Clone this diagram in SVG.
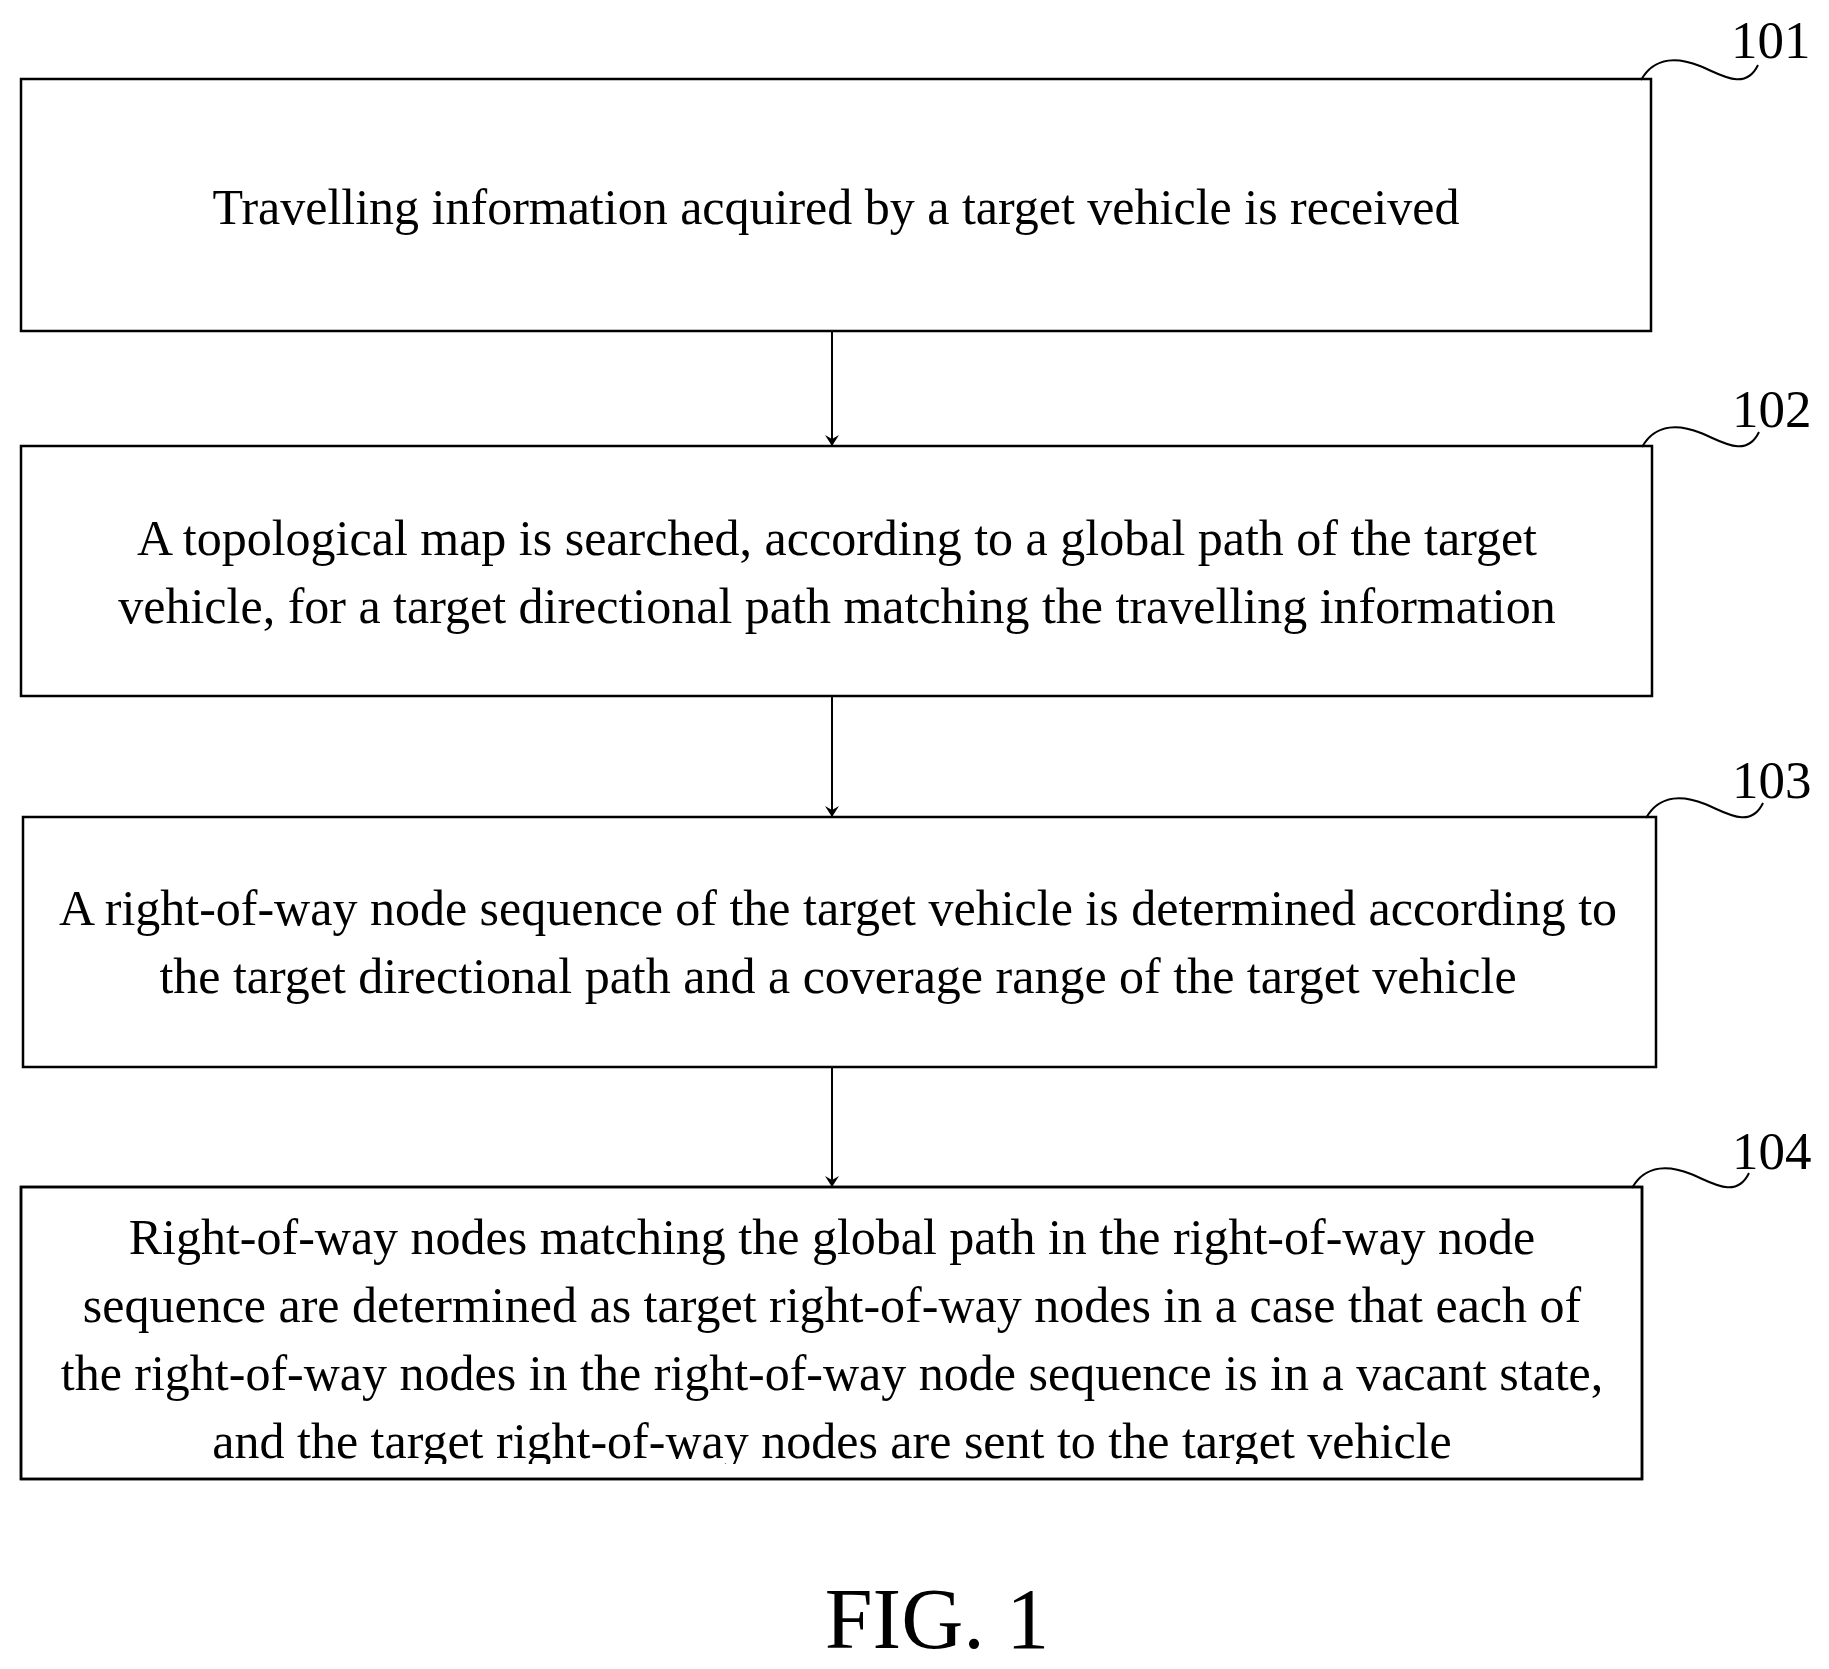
<svg xmlns="http://www.w3.org/2000/svg" width="1829" height="1669" viewBox="0 0 1829 1669">
<style>
.box{fill:#fff;stroke:#000;stroke-width:2.5}
.t{font-family:"Liberation Serif",serif;font-size:50px;text-anchor:middle;fill:#000}
.lb{font-family:"Liberation Serif",serif;font-size:53px;fill:#000}
.sq{fill:none;stroke:#000;stroke-width:2}
.c{stroke:#000;stroke-width:2;fill:none}
</style>
<defs><marker id="ah" markerWidth="12" markerHeight="14" refX="10" refY="7" orient="auto" markerUnits="userSpaceOnUse"><path d="M0,0 L11,7 L0,14 L4,7 Z" fill="#000"/></marker></defs>
<rect width="1829" height="1669" fill="#fff"/>
<g id="n101"><rect class="box" x="21" y="79" width="1630" height="252"/>
<text class="t" x="836" y="224">Travelling information acquired by a target vehicle is received</text>
<path class="sq" d="M1641,80 C1655,55 1680,58 1700,66 C1720,74 1745,92 1758,65"/><text class="lb" x="1731" y="58">101</text></g>
<g id="n102"><rect class="box" x="21" y="446" width="1631" height="250"/>
<text class="t" x="837" y="555">A topological map is searched, according to a global path of the target</text>
<text class="t" x="837" y="623">vehicle, for a target directional path matching the travelling information</text>
<path class="sq" d="M1642,447 C1656,422 1681,425 1701,433 C1721,441 1746,459 1759,432"/><text class="lb" x="1732" y="427">102</text></g>
<g id="n103"><rect class="box" x="23" y="817" width="1633" height="250"/>
<text class="t" x="838" y="925">A right-of-way node sequence of the target vehicle is determined according to</text>
<text class="t" x="838" y="993">the target directional path and a coverage range of the target vehicle</text>
<path class="sq" d="M1646,818 C1660,793 1685,796 1705,804 C1725,812 1750,830 1763,803"/><text class="lb" x="1732" y="798">103</text></g>
<g id="n104"><clipPath id="cp"><rect x="21" y="1187" width="1621" height="277"/></clipPath>
<rect class="box" x="21" y="1187" width="1621" height="292"/>
<g clip-path="url(#cp)">
<text class="t" x="832" y="1254">Right-of-way nodes matching the global path in the right-of-way node</text>
<text class="t" x="832" y="1322">sequence are determined as target right-of-way nodes in a case that each of</text>
<text class="t" x="832" y="1390">the right-of-way nodes in the right-of-way node sequence is in a vacant state,</text>
<text class="t" x="832" y="1458">and the target right-of-way nodes are sent to the target vehicle</text></g>
<rect x="21" y="1187" width="1621" height="292" fill="none" stroke="#000" stroke-width="2.5"/>
<path class="sq" d="M1632,1188 C1646,1163 1671,1166 1691,1174 C1711,1182 1736,1200 1749,1173"/><text class="lb" x="1732" y="1169">104</text></g>
<g id="connectors">
<line class="c" x1="832" y1="331" x2="832" y2="445" marker-end="url(#ah)"/>
<line class="c" x1="832" y1="696" x2="832" y2="816" marker-end="url(#ah)"/>
<line class="c" x1="832" y1="1067" x2="832" y2="1186" marker-end="url(#ah)"/>
</g>
<text x="937" y="1648" font-family="Liberation Serif,serif" font-size="86" text-anchor="middle">FIG. 1</text>
</svg>
